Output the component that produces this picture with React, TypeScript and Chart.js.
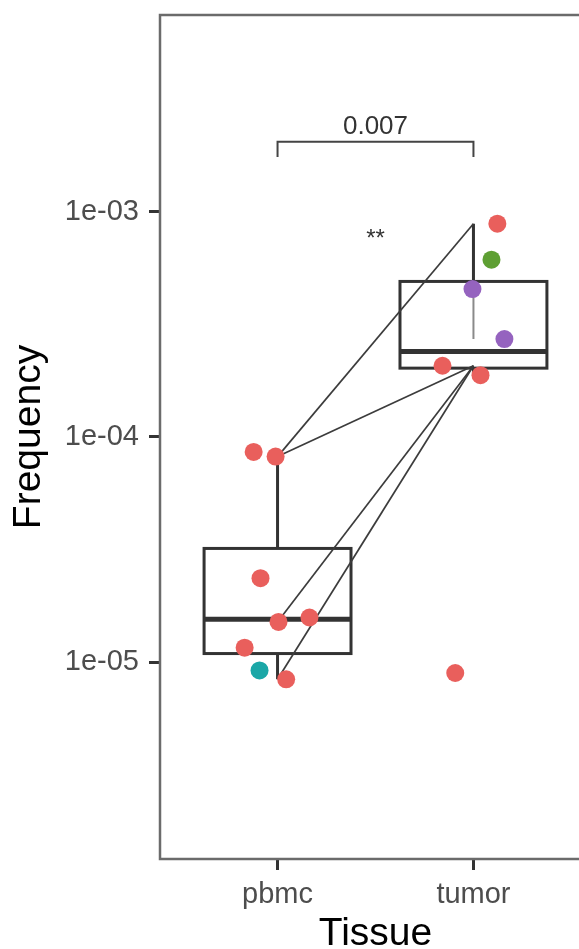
import React, { useEffect, useRef } from 'react';
import { Chart, registerables } from 'chart.js';

Chart.register(...registerables);

// ---- data ----
const categories = ['pbmc', 'tumor'];
const xTickValues = [1, 2];
const yTickValues = [1e-5, 1e-4, 1e-3];
const yTickLabels = ['1e-05', '1e-04', '1e-03'];

// jittered x positions (category units) and frequencies of the samples
const pbmcX = [0.878, 0.99, 0.913, 1.005, 1.163, 0.832, 0.908, 1.044];
const pbmcY = [8.58e-5, 8.18e-5, 2.36e-5, 1.51e-5, 1.58e-5, 1.16e-5, 9.2e-6, 8.4e-6];
const pbmcGroup = ['red', 'red', 'red', 'red', 'red', 'red', 'teal', 'red'];
const tumorX = [2.122, 2.092, 1.995, 2.158, 1.842, 2.036, 1.907];
const tumorY = [8.84e-4, 6.12e-4, 4.53e-4, 2.72e-4, 2.07e-4, 1.88e-4, 8.96e-6];
const tumorGroup = ['red', 'green', 'purple', 'purple', 'red', 'red', 'red'];

// boxplot statistics per category
const boxLow = [8.4e-6, 1.88e-4];
const boxQ1 = [1.093e-5, 2.02e-4];
const boxMedian = [1.551e-5, 2.393e-4];
const boxQ3 = [3.2e-5, 4.9e-4];
const boxHigh = [8.18e-5, 8.84e-4];

// paired lines (category index -> value)
const pairFromCat = [1, 1, 1, 1, 2];
const pairFromVal = [8.18e-5, 8.18e-5, 1.51e-5, 8.4e-6, 4.53e-4];
const pairToCat = [2, 2, 2, 2, 2];
const pairToVal = [8.84e-4, 2.07e-4, 2.07e-4, 2.07e-4, 2.72e-4];

// comparison annotation
const compareFrom = 1;
const compareTo = 2;
const pValueLabel = '0.007';
const sigLabel = '**';

// ---- styling ----
const groupColors: Record<string, string> = {
  red: '#E95F5C',
  teal: '#1BA7A7',
  green: '#5E9F33',
  purple: '#9563BF',
};
const Y_MIN = 1.339e-6;
const Y_MAX = 7.46e-3;
const BRACKET_Y = 2.04e-3;
const BRACKET_TIP_Y = 1.75e-3;
const PLABEL_Y = 2.2e-3;
const SIG_Y = 8.04e-4;
const SIG_X = 1.5;

const boxPlugin = {
  id: 'boxes',
  beforeDatasetsDraw(chart: any) {
    const { ctx, chartArea, scales } = chart;
    const x = scales.x;
    const y = scales.y;
    ctx.save();
    // panel frame
    ctx.strokeStyle = '#6b6b6b';
    ctx.lineWidth = 2.5;
    ctx.strokeRect(chartArea.left, chartArea.top, chartArea.right - chartArea.left, chartArea.bottom - chartArea.top);
    // boxes
    const halfW = 0.375;
    ctx.strokeStyle = '#333333';
    categories.forEach((_c, i) => {
      const cv = xTickValues[i];
      const cx = x.getPixelForValue(cv);
      const l = x.getPixelForValue(cv - halfW);
      const r = x.getPixelForValue(cv + halfW);
      const lo = y.getPixelForValue(boxLow[i]);
      const q1 = y.getPixelForValue(boxQ1[i]);
      const md = y.getPixelForValue(boxMedian[i]);
      const q3 = y.getPixelForValue(boxQ3[i]);
      const hi = y.getPixelForValue(boxHigh[i]);
      ctx.lineWidth = 3;
      ctx.beginPath();
      ctx.moveTo(cx, q3);
      ctx.lineTo(cx, hi);
      ctx.moveTo(cx, q1);
      ctx.lineTo(cx, lo);
      ctx.stroke();
      ctx.strokeRect(l, q3, r - l, q1 - q3);
      ctx.lineWidth = 5;
      ctx.beginPath();
      ctx.moveTo(l, md);
      ctx.lineTo(r, md);
      ctx.stroke();
    });
    ctx.restore();
  },
  afterDatasetsDraw(chart: any) {
    const { ctx, scales } = chart;
    const x = scales.x;
    const y = scales.y;
    ctx.save();
    const x1 = x.getPixelForValue(compareFrom);
    const x2 = x.getPixelForValue(compareTo);
    const by = y.getPixelForValue(BRACKET_Y);
    const bt = y.getPixelForValue(BRACKET_TIP_Y);
    ctx.strokeStyle = '#444444';
    ctx.lineWidth = 2;
    ctx.beginPath();
    ctx.moveTo(x1, bt);
    ctx.lineTo(x1, by);
    ctx.lineTo(x2, by);
    ctx.lineTo(x2, bt);
    ctx.stroke();
    ctx.fillStyle = '#333333';
    ctx.font = '26px "Liberation Sans", Arial, sans-serif';
    ctx.textAlign = 'center';
    ctx.textBaseline = 'alphabetic';
    ctx.fillText(pValueLabel, (x1 + x2) / 2, y.getPixelForValue(PLABEL_Y));
    ctx.font = '24px "Liberation Sans", Arial, sans-serif';
    ctx.textBaseline = 'middle';
    ctx.fillText(sigLabel, x.getPixelForValue(SIG_X), y.getPixelForValue(SIG_Y) + 6);
    ctx.restore();
  },
};

export default function App() {
  const ref = useRef<HTMLCanvasElement | null>(null);

  useEffect(() => {
    if (!ref.current) return;
    const points = [
      ...pbmcX.map((xv, i) => ({ x: xv, y: pbmcY[i], c: groupColors[pbmcGroup[i]] })),
      ...tumorX.map((xv, i) => ({ x: xv, y: tumorY[i], c: groupColors[tumorGroup[i]] })),
    ];
    const lineSets = pairFromVal.map((fv, i) => ({
      type: 'line' as const,
      data: [
        { x: pairFromCat[i], y: fv },
        { x: pairToCat[i], y: pairToVal[i] },
      ],
      borderColor: i === 4 ? '#8a8a8a' : '#3c3c3c',
      borderWidth: i === 4 ? 2 : 1.7,
      pointRadius: 0,
      showLine: true,
      fill: false,
      order: 2,
    }));
    const chart = new Chart(ref.current, {
      type: 'scatter',
      data: {
        datasets: [
          {
            type: 'scatter',
            data: points.map((p) => ({ x: p.x, y: p.y })),
            pointBackgroundColor: points.map((p) => p.c),
            pointBorderWidth: 0,
            pointRadius: 9,
            order: 1,
          } as any,
          ...lineSets,
        ],
      },
      options: {
        animation: false,
        responsive: false,
        devicePixelRatio: 1,
        layout: { padding: { top: 15, right: 8, left: 0, bottom: 0 } },
        plugins: { legend: { display: false }, tooltip: { enabled: false } },
        scales: {
          x: {
            type: 'linear',
            min: 0.4,
            max: 2.6,
            afterBuildTicks: (s: any) => {
              s.ticks = xTickValues.map((v) => ({ value: v }));
            },
            afterFit: (s: any) => {
              s.height = 101;
              s.paddingLeft = 0;
              s.paddingRight = 0;
            },
            ticks: {
              autoSkip: false,
              maxRotation: 0,
              padding: 8,
              color: '#4d4d4d',
              font: { family: '"Liberation Sans", Arial, sans-serif', size: 29 },
              callback: (_v: any, i: number) => categories[i],
            },
            grid: {
              display: true,
              drawOnChartArea: false,
              drawTicks: true,
              tickLength: 11,
              tickWidth: 3,
              tickColor: '#333333',
            },
            border: { display: false },
            title: {
              display: true,
              text: 'Tissue',
              color: '#000000',
              font: { family: '"Liberation Sans", Arial, sans-serif', size: 39, lineHeight: 1 },
              padding: { top: 0, bottom: 6.5 },
            },
          },
          y: {
            type: 'logarithmic',
            min: Y_MIN,
            max: Y_MAX,
            afterBuildTicks: (s: any) => {
              s.ticks = yTickValues.map((v) => ({ value: v }));
            },
            afterFit: (s: any) => {
              s.width = 160;
              s.paddingTop = 0;
              s.paddingBottom = 0;
            },
            ticks: {
              autoSkip: false,
              padding: 10,
              color: '#4d4d4d',
              font: { family: '"Liberation Sans", Arial, sans-serif', size: 29 },
              callback: (v: any) => {
                const idx = yTickValues.findIndex((t) => Math.abs(t - v) / t < 1e-6);
                return idx >= 0 ? yTickLabels[idx] : '';
              },
            },
            grid: {
              display: true,
              drawOnChartArea: false,
              drawTicks: true,
              tickLength: 11,
              tickWidth: 3,
              tickColor: '#333333',
            },
            border: { display: false },
            title: {
              display: true,
              text: 'Frequency',
              color: '#000000',
              font: { family: '"Liberation Sans", Arial, sans-serif', size: 39, lineHeight: 1 },
              padding: { top: 9.5, bottom: 0 },
            },
          },
        },
      },
      plugins: [boxPlugin],
    } as any);
    return () => chart.destroy();
  }, []);

  return (
    <div
      style={{
        position: 'fixed',
        left: 0,
        top: 0,
        width: 579,
        height: 949,
        overflow: 'hidden',
        background: '#ffffff',
      }}
    >
      <canvas ref={ref} width={600} height={960} style={{ display: 'block', width: 600, height: 960 }} />
    </div>
  );
}
